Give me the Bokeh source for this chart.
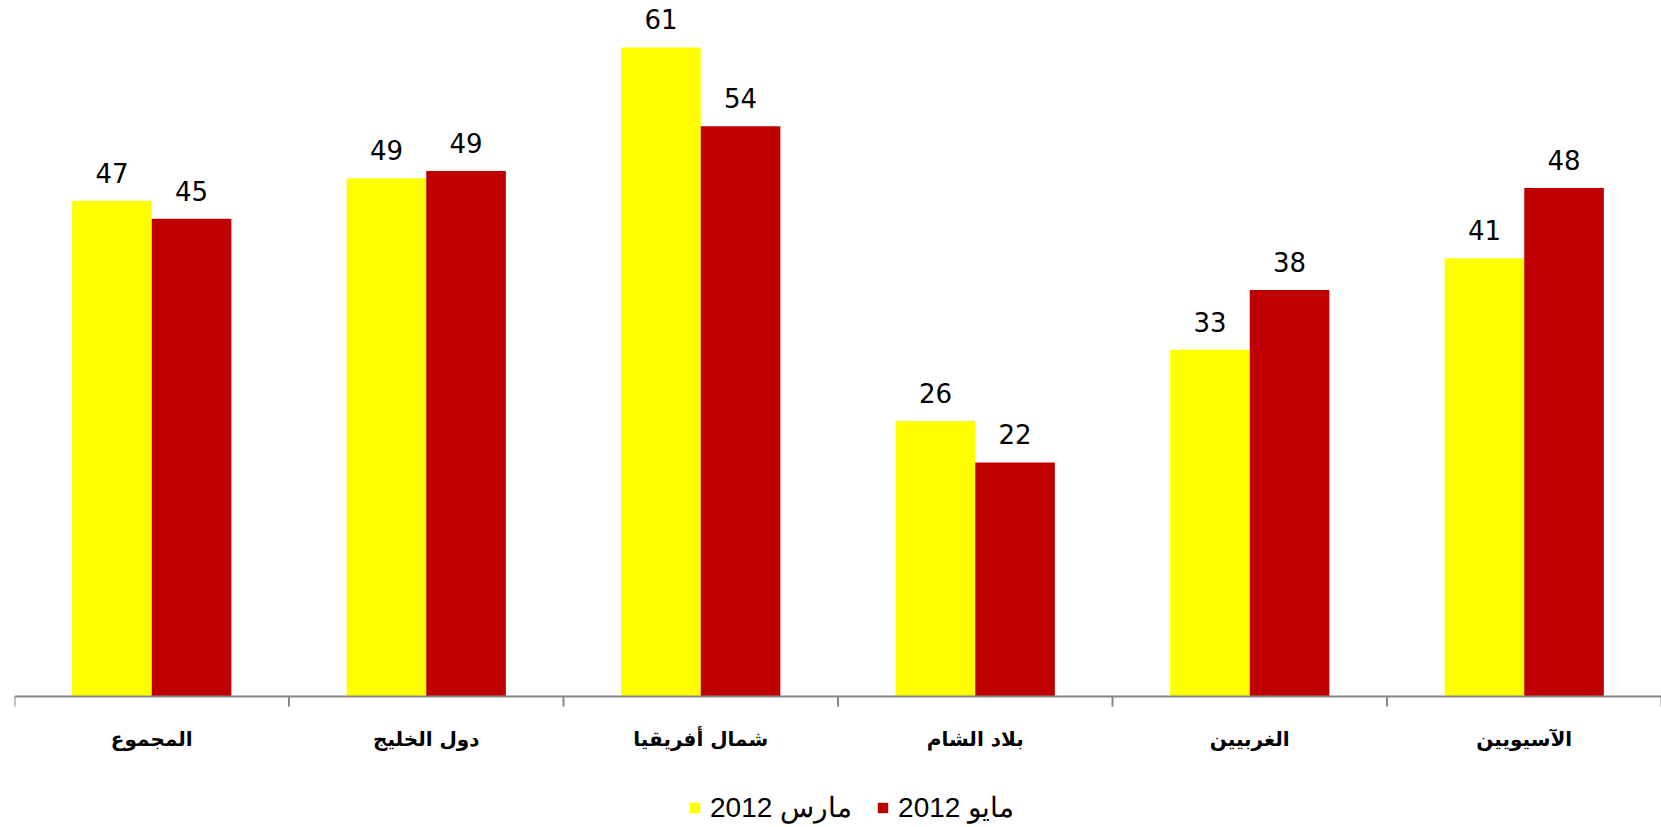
import numpy as np
from bokeh.plotting import figure
from bokeh.models import Range1d, ColumnDataSource, Legend, LegendItem, Span
from bokeh.transform import dodge
from bokeh.core.properties import value
from bokeh.embed import file_html
from bokeh.resources import INLINE

categories = ["المجموع", "دول الخليج", "شمال أفريقيا", "بلاد الشام", "الغربيين", "الآسيويين"]
march_2012 = [46.6, 48.7, 61.0, 25.9, 32.6, 41.2]
may_2012 = [44.9, 49.4, 53.6, 22.0, 38.2, 47.8]
series_names = ["2012 مارس", "2012 مايو"]
series_colors = ["#FFFF00", "#C00000"]

n = len(categories)
centers = (np.arange(n) + 0.5).tolist()
bounds = list(range(n + 1))

W, H = 1661, 827
left = 14
axis_px = 696          # screen y of the value axis (0)
px_per_unit = 10.64
tick_px = 10

src = ColumnDataSource(dict(
    xc=centers,
    cat=categories,
    march=march_2012,
    may=may_2012,
    march_lbl=[f"{v:.0f}" for v in march_2012],
    may_lbl=[f"{v:.0f}" for v in may_2012],
))

p = figure(x_range=Range1d(0, n),
           y_range=Range1d(-(H - axis_px) / px_per_unit, axis_px / px_per_unit),
           width=W, height=H, output_backend="svg", toolbar_location=None,
           x_axis_location=None, y_axis_location=None,
           min_border_left=left, min_border_right=0, min_border_top=0, min_border_bottom=0)
p.outline_line_color = None
p.xgrid.visible = False
p.ygrid.visible = False
p.background_fill_color = "white"
p.border_fill_color = "white"

off = 0.145
bw = 0.29
r1 = p.vbar(x=dodge("xc", -off), top="march", width=bw, source=src,
            fill_color=series_colors[0], line_color=None)
r2 = p.vbar(x=dodge("xc", off), top="may", width=bw, source=src,
            fill_color=series_colors[1], line_color=None)

# category axis: baseline, boundary ticks, labels
p.add_layout(Span(location=0, dimension="width", line_color="#868686", line_width=2))
p.segment(x0=bounds, x1=bounds, y0=[0] * len(bounds),
          y1=[-tick_px / px_per_unit] * len(bounds),
          line_color="#868686", line_width=2)
p.text(x="xc", y=0, text="cat", source=src, y_offset=42,
       text_align="center", text_baseline="middle",
       text_font=value("DejaVu Sans"), text_font_style="bold",
       text_font_size="20px", text_color="black")

# value labels
for field, lbl, dx in (("march", "march_lbl", -off), ("may", "may_lbl", off)):
    p.text(x=dodge("xc", dx), y=field, text=lbl, source=src,
           y_offset=-28, text_align="center", text_baseline="alphabetic",
           text_font=value("DejaVu Sans"), text_font_size="26px",
           text_color="black")

legend = Legend(items=[LegendItem(label=series_names[0], renderers=[r1]),
                       LegendItem(label=series_names[1], renderers=[r2])],
                orientation="horizontal", location=(674, 3),
                glyph_width=13, glyph_height=13, label_standoff=9, spacing=24,
                padding=0, margin=0, border_line_color=None, background_fill_alpha=0,
                label_text_font="Liberation Sans", label_text_font_size="28px",
                label_text_color="black")
p.add_layout(legend, "center")

open("out.html", "w").write(file_html(p, INLINE))
